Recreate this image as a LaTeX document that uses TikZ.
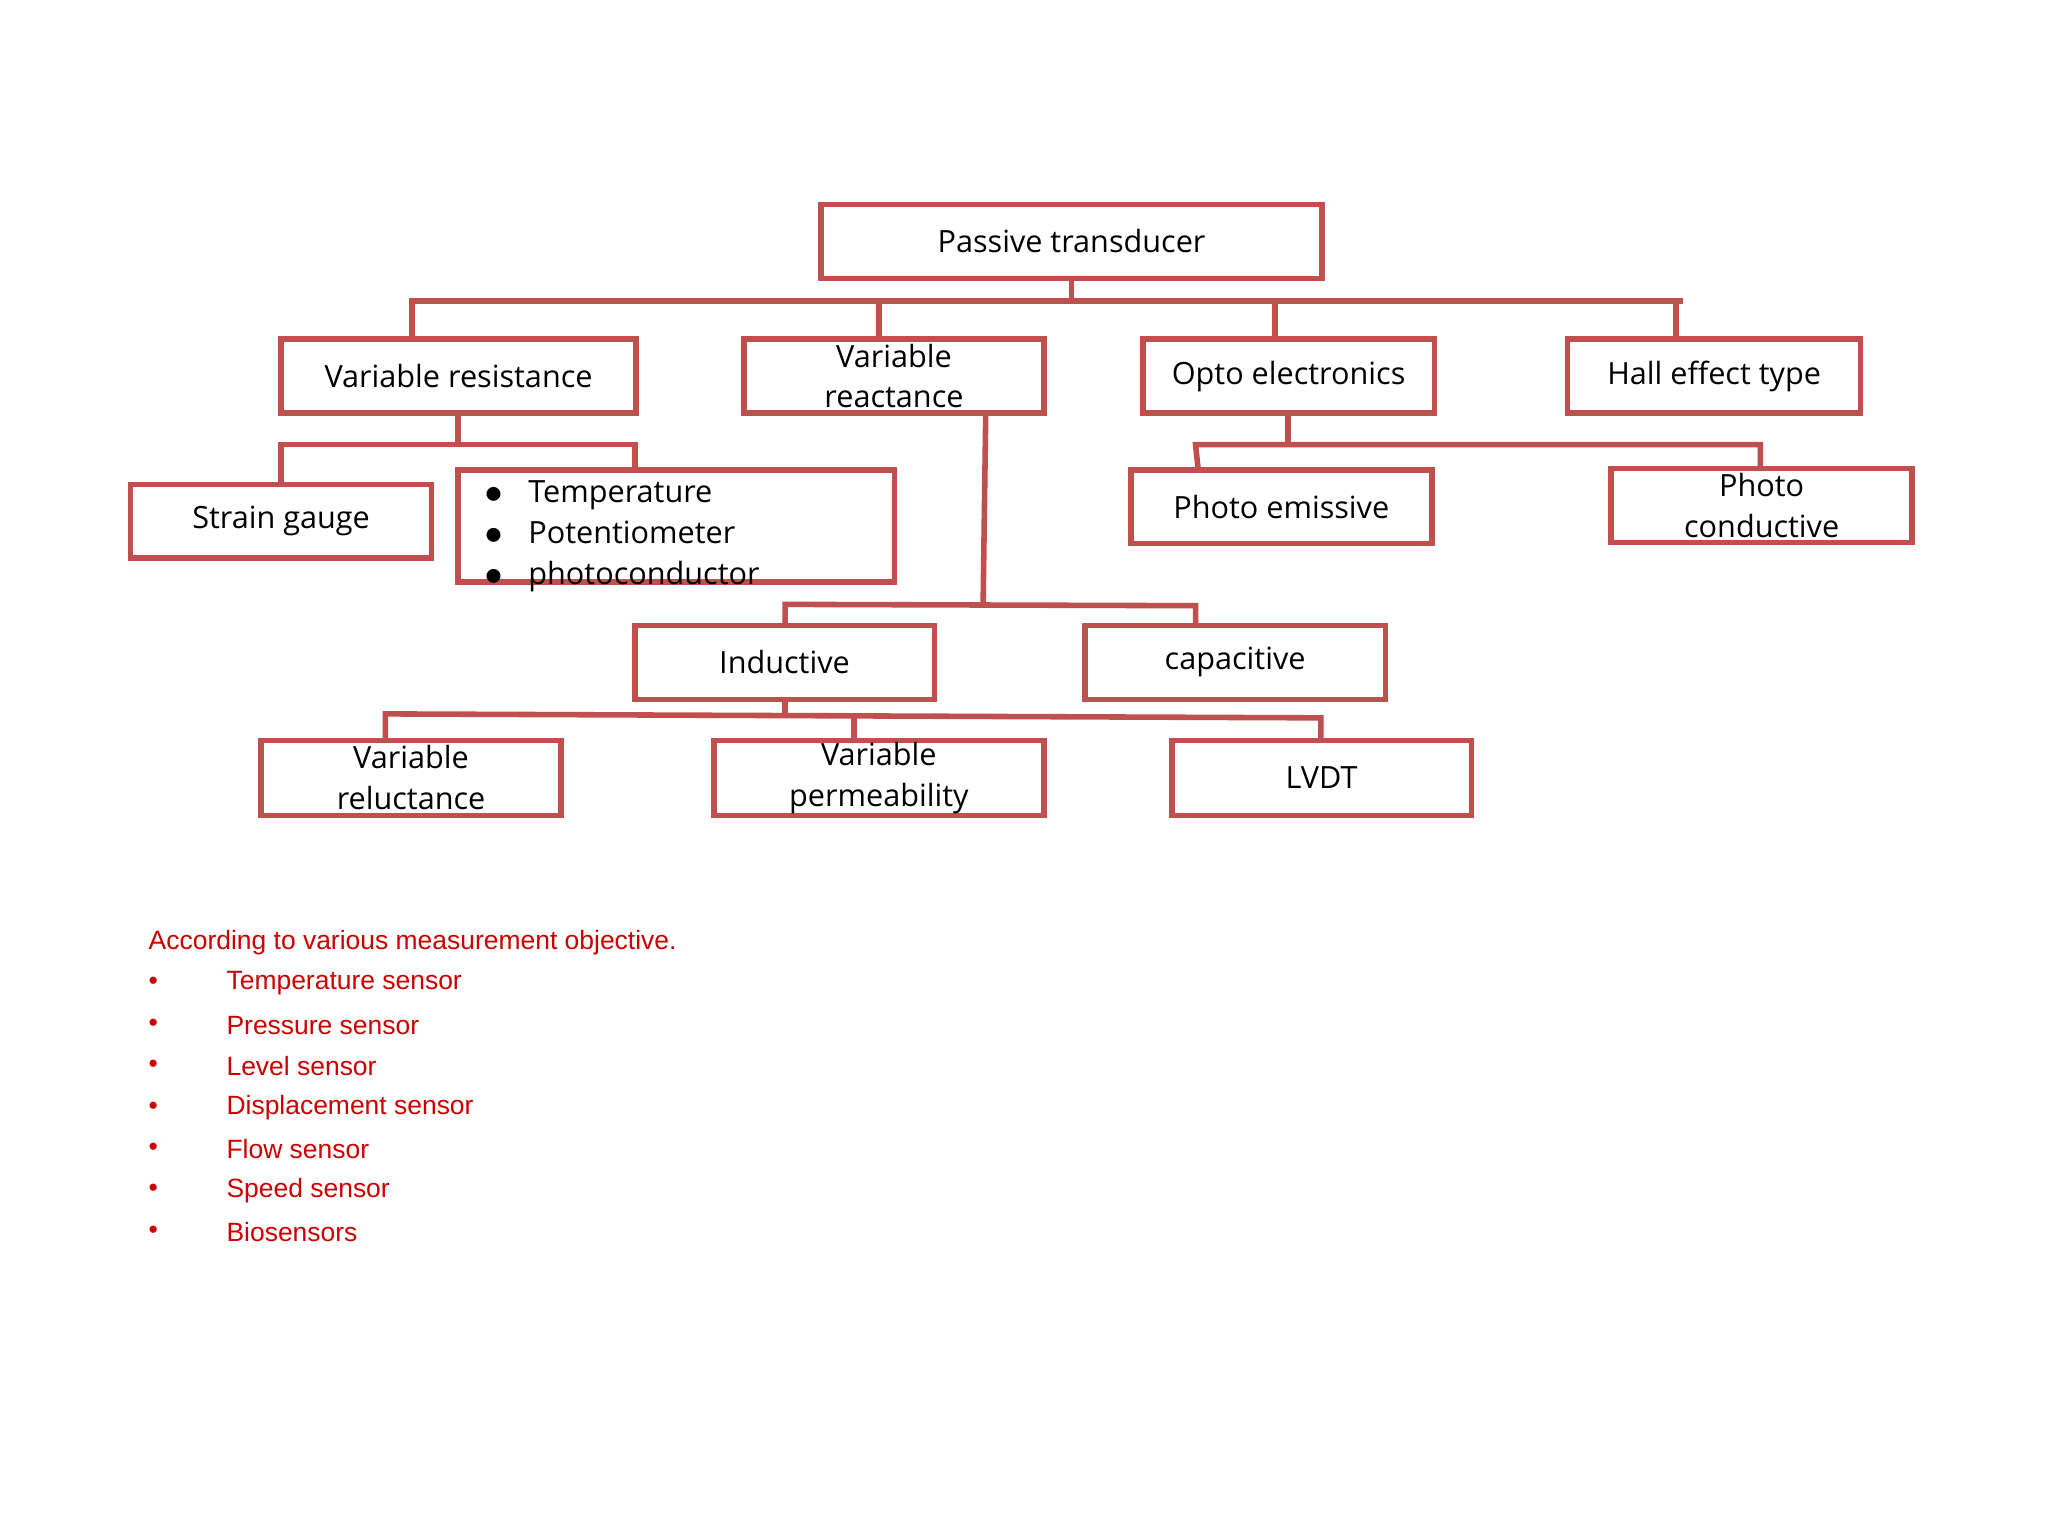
\documentclass[tikz,border=0pt]{standalone}
\usepackage{fontspec}
\setmainfont{Open Sans}
\newfontfamily\listfont{Liberation Sans}
\definecolor{boxred}{RGB}{192,80,77}
\definecolor{txtred}{RGB}{204,0,0}
\begin{document}
\begin{tikzpicture}[x=0.01cm,y=-0.01cm,
  bx/.style={draw=boxred,line width=1.2pt,inner sep=0pt},
  ln/.style={draw=boxred,line width=1.2pt},
  lbl/.style={font=\fontsize{6.6pt}{8.8pt}\selectfont,align=center},
  lst/.style={font=\listfont\fontsize{5.7pt}{7pt}\selectfont,text=txtred,anchor=west,inner sep=0pt}]
\useasboundingbox (0,0) rectangle (1552,1164);
\newcommand{\bxx}[6]{\draw[bx] (#2,#3) rectangle (#4,#5); \node[lbl] (#1) at ({(#2+#4)/2},{(#3+#5)/2}) {#6};}
\bxx{pt}{622}{155}{1002}{211}{Passive transducer}
\bxx{vr}{213}{257}{482}{313}{Variable resistance}
\bxx{vx}{564}{257}{791}{313}{Variable\\reactance}
\bxx{oe}{866}{257}{1087}{313}{Opto electronics}
\bxx{he}{1188}{257}{1410}{313}{Hall effect type}
\bxx{sg}{99}{367}{327}{423}{Strain gauge}
\draw[bx] (347,356) rectangle (678,441);
\node[lbl,align=left,anchor=north west] (tl) at (355,352) {$\bullet$\hspace{0.8em}Temperature\\$\bullet$\hspace{0.8em}Potentiometer\\$\bullet$\hspace{0.8em}photoconductor};
\bxx{pe}{857}{356}{1085}{412}{Photo emissive}
\bxx{pc}{1221}{355}{1449}{411}{Photo\\conductive}
\bxx{in}{481}{474}{708}{530}{Inductive}
\bxx{ca}{822}{474}{1050}{530}{capacitive}
\bxx{rl}{198}{561}{425}{618}{Variable\\reluctance}
\bxx{pm}{541}{561}{791}{618}{Variable\\permeability}
\bxx{lv}{888}{561}{1115}{618}{LVDT}
% connectors
\draw[ln] (812,211)--(812,228);
\draw[ln] (312,257)--(312,228)--(1275,228);
\draw[ln] (666,257)--(666,228);
\draw[ln] (966,257)--(966,228);
\draw[ln] (1270,257)--(1270,228);
\draw[ln] (347,313)--(347,337);
\draw[ln] (213,367)--(213,337)--(481,337)--(481,356);
\draw[ln] (747,313)--(745,458);
\draw[ln] (595,474)--(595,458)--(906,459)--(906,474);
\draw[ln] (976,313)--(976,337);
\draw[ln] (908,356)--(906,337)--(1334,337)--(1334,355);
\draw[ln] (595,530)--(595,541);
\draw[ln] (292,561)--(292,541)--(1001,544)--(1001,561);
\draw[ln] (647,561)--(647,543);
% list
\node[lst] (h) at (112,714) {According to various measurement objective.};
\foreach \t [count=\i] in {Temperature sensor,Pressure sensor,Level sensor,Displacement sensor,Flow sensor,Speed sensor,Biosensors}{
  \node[lst] (b\i) at (112,{714+31.4*\i}) {•};
  \node[lst] (l\i) at (171,{714+31.4*\i}) {\t};
}
\end{tikzpicture}
\end{document}
